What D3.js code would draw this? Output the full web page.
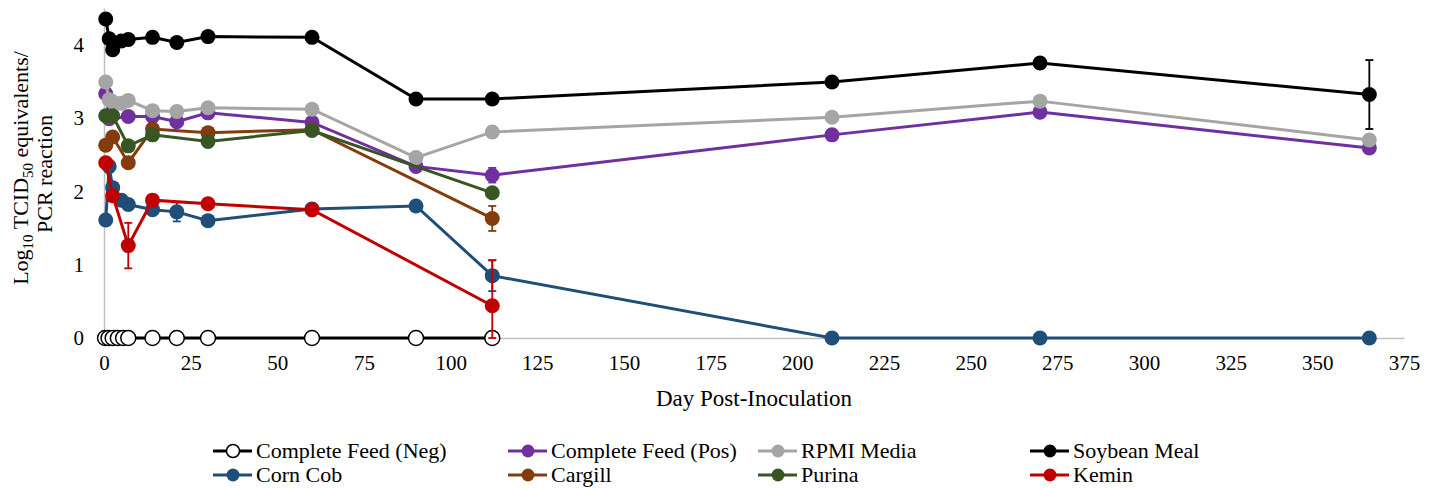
<!DOCTYPE html>
<html>
<head>
<meta charset="utf-8">
<script src="https://cdn.jsdelivr.net/npm/d3@7"></script>
<style>
    body { margin: 0; background: #fff; }
    #chart text { font-family: "Liberation Serif", "Times New Roman", "DejaVu Serif", serif !important; fill: #000; }
</style>
</head>
<body>
<svg id="chart" width="1438" height="488" font-family="Liberation Serif"></svg>
<script>
// sampling days (days post-inoculation)
var days = [0.5, 1.5, 2.5, 5, 7, 14, 21, 30, 60, 90, 112, 210, 270, 365];
var negDays = [0.3, 1.3, 2.5, 4, 5.5, 7, 14, 21, 30, 60, 90, 112];

// log10 TCID50 equivalents / PCR reaction
var negFeed = [0, 0, 0, 0, 0, 0, 0, 0, 0, 0, 0, 0];
var posFeed = [3.33, 2.99, null, null, 3.02, 3.02, 2.95, 3.07, 2.94, 2.34, 2.22, 2.77, 3.08, 2.59];
var rpmi = [3.49, 3.25, 3.22, 3.20, 3.24, 3.10, 3.09, 3.14, 3.12, 2.46, 2.81, 3.01, 3.23, 2.70];
var soybean = [4.35, 4.08, 3.93, 4.05, 4.07, 4.10, 4.03, 4.11, 4.10, 3.26, 3.26, 3.49, 3.75, 3.32];
var cornCob = [1.61, 2.34, 2.05, 1.88, 1.82, 1.75, 1.72, 1.60, 1.76, 1.80, 0.85, 0, 0, 0];
var cargill = [2.63, null, 2.74, null, 2.39, 2.85, null, 2.80, 2.84, null, 1.63, null, null, null];
var purina = [3.03, null, 3.03, null, 2.62, 2.77, null, 2.68, 2.83, null, 1.98, null, null, null];
var kemin = [2.39, null, 1.94, null, 1.26, 1.88, null, 1.83, 1.75, null, 0.44, null, null, null];

// error bars (+/-)
var posErr = [0, 0, 0, 0, 0, 0, 0, 0, 0, 0, 0.10, 0, 0, 0];
var soyErr = [0, 0, 0, 0, 0, 0, 0, 0, 0, 0, 0, 0.05, 0, 0.47];
var cornErr = [0, 0.08, 0, 0, 0, 0, 0.13, 0, 0.07, 0, 0.21, 0, 0, 0];
var cargillErr = [0, 0, 0, 0, 0, 0, 0, 0, 0, 0, 0.17, 0, 0, 0];
var keminErr = [0, 0, 0, 0, 0.31, 0, 0, 0, 0.08, 0, 0.62, 0, 0, 0];

var xTicks = [0, 25, 50, 75, 100, 125, 150, 175, 200, 225, 250, 275, 300, 325, 350, 375];
var yTicks = [0, 1, 2, 3, 4];

var series = [
    { name: "Complete Feed (Neg)", x: negDays, y: negFeed, err: null, color: "#000000", fill: "#ffffff" },
    { name: "Complete Feed (Pos)", x: days, y: posFeed, err: posErr, color: "#7030a0" },
    { name: "RPMI Media", x: days, y: rpmi, err: null, color: "#a5a5a5" },
    { name: "Soybean Meal", x: days, y: soybean, err: soyErr, color: "#000000" },
    { name: "Corn Cob", x: days, y: cornCob, err: cornErr, color: "#1f4e79" },
    { name: "Cargill", x: days, y: cargill, err: cargillErr, color: "#843c0c" },
    { name: "Purina", x: days, y: purina, err: null, color: "#375623" },
    { name: "Kemin", x: days, y: kemin, err: keminErr, color: "#c00000" }
];

var FONT = "'Liberation Serif', 'Times New Roman', 'DejaVu Serif', serif";

var svg = d3.select("#chart");
var margin = { top: 8, left: 104, right: 34, bottom: 150 };
var width = 1438 - margin.left - margin.right,
    height = 488 - margin.top - margin.bottom;

var x = d3.scaleLinear().domain([0, 375]).range([0, width]);
var y = d3.scaleLinear().domain([0, 4.5]).range([height, 0]).clamp(true);

var g = svg.append("g").attr("transform", "translate(" + margin.left + "," + margin.top + ")");

// axes
var yAxis = g.append("g").call(d3.axisLeft(y).tickValues(yTicks).tickSize(0).tickPadding(20).tickFormat(d3.format("d")));
yAxis.attr("font-family", null);
yAxis.select(".domain").attr("stroke", "#bfbfbf").attr("stroke-width", 1.5);
yAxis.selectAll("text").style("font-size", "21px").style("font-family", FONT);

var xAxis = g.append("g").attr("transform", "translate(0," + height + ")")
    .call(d3.axisBottom(x).tickValues(xTicks).tickSize(0).tickPadding(17));
xAxis.attr("font-family", null);
xAxis.select(".domain").attr("stroke", "#bfbfbf").attr("stroke-width", 1.5);
xAxis.selectAll("text").style("font-size", "21px").style("font-family", FONT);

g.append("text")
    .attr("x", width / 2)
    .attr("y", height + 68)
    .attr("text-anchor", "middle")
    .style("font-size", "23px")
    .style("font-family", FONT)
    .text("Day Post-Inoculation");

// y title, two lines with subscripts
var yTitle = svg.append("text")
    .attr("transform", "translate(28,168) rotate(-90)")
    .attr("text-anchor", "middle")
    .style("font-size", "22px")
    .style("font-family", FONT);
yTitle.append("tspan").text("Log");
yTitle.append("tspan").attr("dy", 5).style("font-size", "15px").text("10");
yTitle.append("tspan").attr("dy", -5).text(" TCID");
yTitle.append("tspan").attr("dy", 5).style("font-size", "15px").text("50");
yTitle.append("tspan").attr("dy", -5).text(" equivalents/");
svg.append("text")
    .attr("transform", "translate(52,174) rotate(-90)")
    .attr("text-anchor", "middle")
    .style("font-size", "22px")
    .style("font-family", FONT)
    .text("PCR reaction");

var line = d3.line()
    .x(function(d) { return x(d.day); })
    .y(function(d) { return y(d.v); });

series.forEach(function(s) {
    var pts = [];
    for (var i = 0; i < s.y.length; i++) {
        if (s.y[i] != null) pts.push({ day: s.x[i], v: s.y[i], e: s.err ? s.err[i] : 0 });
    }
    var sg = g.append("g");

    sg.append("path")
        .datum(pts)
        .attr("fill", "none")
        .attr("stroke", s.color)
        .attr("stroke-width", 3)
        .attr("d", line);

    var bars = sg.selectAll(".err")
        .data(pts.filter(function(d) { return d.e > 0; }))
        .enter().append("g")
        .attr("stroke", s.color)
        .attr("stroke-width", 1.8);
    bars.append("line")
        .attr("x1", function(d) { return x(d.day); })
        .attr("x2", function(d) { return x(d.day); })
        .attr("y1", function(d) { return y(d.v - d.e); })
        .attr("y2", function(d) { return y(d.v + d.e); });
    bars.append("line")
        .attr("x1", function(d) { return x(d.day) - 4; })
        .attr("x2", function(d) { return x(d.day) + 4; })
        .attr("y1", function(d) { return y(d.v + d.e); })
        .attr("y2", function(d) { return y(d.v + d.e); });
    bars.append("line")
        .attr("x1", function(d) { return x(d.day) - 4; })
        .attr("x2", function(d) { return x(d.day) + 4; })
        .attr("y1", function(d) { return y(d.v - d.e); })
        .attr("y2", function(d) { return y(d.v - d.e); });

    sg.selectAll("circle")
        .data(pts)
        .enter().append("circle")
        .attr("cx", function(d) { return x(d.day); })
        .attr("cy", function(d) { return y(d.v); })
        .attr("r", 7.5)
        .attr("fill", s.fill || s.color)
        .attr("stroke", s.color)
        .attr("stroke-width", s.fill ? 1.5 : 0);
});

// legend, 4 columns x 2 rows
var legX = [213, 508, 758, 1030],
    legY = [451, 475];
series.forEach(function(s, i) {
    var lx = legX[i % 4], ly = legY[Math.floor(i / 4)];
    var lg = svg.append("g").attr("transform", "translate(" + lx + "," + ly + ")");
    lg.append("line").attr("x1", 0).attr("x2", 39).attr("stroke", s.color).attr("stroke-width", 3);
    lg.append("circle").attr("cx", 20).attr("r", 6.5)
        .attr("fill", s.fill || s.color)
        .attr("stroke", s.color)
        .attr("stroke-width", s.fill ? 1.5 : 0);
    lg.append("text").attr("x", 43).attr("dy", "0.33em")
        .style("font-size", "22px").style("font-family", FONT)
        .text(s.name);
});
</script>
</body>
</html>
